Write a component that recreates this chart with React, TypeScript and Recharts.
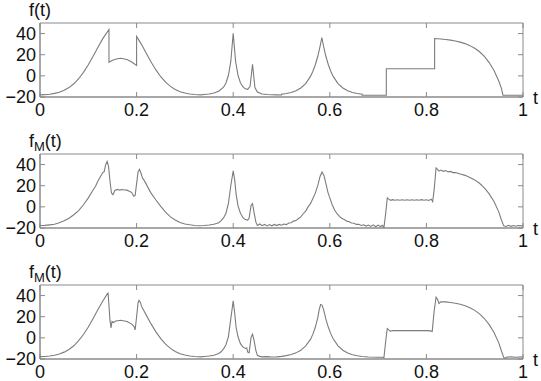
import { LineChart, Line, XAxis, YAxis, ReferenceArea } from "recharts";

// t ticks / value ticks shared by the three panels
const tTicks = [0, 0.2, 0.4, 0.6, 0.8, 1];
const yTicks = [-20, 0, 20, 40];

// f(t): original piecewise regular signal  [t, value]
const fPoints: [number, number][] = [
  [0, -18.0], [0.01, -17.8], [0.02, -17.4], [0.03, -16.6], [0.04, -15.5], [0.05, -13.7],
  [0.06, -11.1], [0.07, -7.5], [0.08, -2.7], [0.09, 3.3], [0.1, 10.5], [0.11, 18.5],
  [0.12, 27.0], [0.13, 35.2], [0.1428, 43.8], [0.1428, 12.9], [0.15, 14.8], [0.16, 16.2],
  [0.167, 16.7], [0.18, 15.5], [0.19, 13.1], [0.2, 9.9], [0.2, 37.2], [0.21, 29.8],
  [0.22, 21.3], [0.23, 13.1], [0.24, 5.6], [0.25, -0.8], [0.26, -6.0], [0.27, -10.0],
  [0.28, -12.9], [0.29, -15.0], [0.3, -16.3], [0.31, -17.2], [0.32, -17.7], [0.333, -18.0],
  [0.34, -17.6], [0.35, -17.1], [0.36, -16.3], [0.37, -14.6], [0.38, -10.7], [0.385, -6.7],
  [0.39, 0.3], [0.395, 13.4], [0.4, 40.2], [0.405, 13.5], [0.41, 0.4], [0.415, -6.5],
  [0.42, -10.3], [0.425, -12.3], [0.43, -12.8], [0.435, -9.8], [0.44, 11.0], [0.445, -11.0],
  [0.45, -15.3], [0.46, -17.2], [0.47, -17.7], [0.48, -17.9], [0.49, -18.0], [0.5, -18.1],
  [0.5, -17.3], [0.51, -16.7], [0.52, -15.7], [0.53, -14.1], [0.54, -11.5], [0.55, -7.3],
  [0.56, -0.5], [0.565, 4.3], [0.57, 10.5], [0.575, 18.3], [0.58, 28.2], [0.5835, 36.3],
  [0.587, 28.2], [0.592, 18.3], [0.597, 10.5], [0.602, 4.3], [0.607, -0.5], [0.617, -7.3],
  [0.627, -11.5], [0.637, -14.1], [0.647, -15.7], [0.657, -16.7], [0.667, -17.3], [0.667, -18.3],
  [0.717, -18.3], [0.717, 6.7], [0.817, 6.7], [0.817, 35.3], [0.83, 34.9], [0.84, 34.4],
  [0.85, 33.8], [0.86, 33.0], [0.87, 31.9], [0.88, 30.5], [0.89, 28.6], [0.9, 26.1],
  [0.91, 22.8], [0.92, 18.4], [0.93, 12.6], [0.94, 5.0], [0.95, -5.1], [0.955, -11.4],
  [0.9585, -18.3], [1, -18.3],
];

// f_M(t): linear approximation (ringing near singularities)
const fmLinear: [number, number][] = [
  [0, -17.6], [0.01, -17.5], [0.02, -17.0], [0.03, -16.4], [0.04, -15.0], [0.05, -13.2],
  [0.06, -10.8], [0.07, -7.5], [0.08, -3.5], [0.09, 2.0], [0.1, 8.5], [0.11, 16.0],
  [0.115, 19.5], [0.12, 24.5], [0.125, 28.5], [0.13, 32.5], [0.133, 33.5], [0.136, 40.0],
  [0.139, 43.0], [0.142, 38.0], [0.145, 24.0], [0.148, 13.0], [0.151, 11.5], [0.155, 15.5],
  [0.16, 16.5], [0.165, 15.8], [0.17, 16.4], [0.175, 16.0], [0.18, 15.8], [0.185, 14.8],
  [0.19, 13.5], [0.194, 10.0], [0.197, 10.8], [0.2, 22.0], [0.203, 33.0], [0.206, 35.5],
  [0.209, 32.0], [0.212, 27.5], [0.215, 25.5], [0.22, 21.5], [0.225, 17.0], [0.23, 13.0],
  [0.24, 6.5], [0.25, 0.5], [0.26, -5.0], [0.27, -9.5], [0.28, -12.5], [0.29, -14.8],
  [0.3, -16.2], [0.31, -17.0], [0.32, -17.6], [0.33, -17.9], [0.34, -17.7], [0.35, -17.2],
  [0.36, -16.5], [0.37, -15.0], [0.375, -13.0], [0.38, -10.5], [0.385, -6.0], [0.39, 3.0],
  [0.395, 20.0], [0.4, 34.0], [0.403, 26.0], [0.406, 12.0], [0.41, 1.0], [0.415, -6.0],
  [0.42, -10.0], [0.425, -12.0], [0.43, -12.5], [0.433, -10.5], [0.437, 1.5], [0.44, 3.0],
  [0.443, -5.0], [0.447, -14.5], [0.45, -17.5], [0.455, -16.2], [0.46, -17.8], [0.465, -16.6],
  [0.47, -18.0], [0.475, -16.8], [0.48, -17.9], [0.485, -16.6], [0.49, -17.7], [0.495, -16.6],
  [0.5, -17.4], [0.505, -16.2], [0.51, -16.8], [0.515, -15.2], [0.52, -15.0], [0.525, -13.5],
  [0.53, -13.0], [0.535, -11.0], [0.54, -9.5], [0.545, -6.5], [0.55, -4.0], [0.555, 0.0],
  [0.56, 3.0], [0.565, 8.0], [0.57, 13.0], [0.575, 20.0], [0.58, 29.0], [0.584, 33.0],
  [0.588, 29.5], [0.592, 22.0], [0.596, 14.0], [0.6, 8.5], [0.605, 2.0], [0.61, -3.0],
  [0.615, -6.5], [0.62, -9.0], [0.625, -11.0], [0.63, -12.0], [0.635, -13.5], [0.64, -14.0],
  [0.645, -15.2], [0.65, -15.5], [0.655, -16.6], [0.66, -16.5], [0.665, -17.6], [0.67, -17.0],
  [0.675, -18.2], [0.68, -17.2], [0.685, -18.5], [0.69, -17.0], [0.695, -18.8], [0.7, -17.2],
  [0.705, -18.6], [0.709, -17.5], [0.712, -20.0], [0.716, -5.0], [0.719, 8.5], [0.722, 7.3],
  [0.726, 6.2], [0.73, 6.8], [0.735, 6.3], [0.74, 6.7], [0.745, 6.2], [0.75, 6.7],
  [0.755, 6.3], [0.76, 6.7], [0.765, 6.2], [0.77, 6.7], [0.775, 6.3], [0.78, 6.7],
  [0.785, 6.2], [0.79, 6.8], [0.795, 6.2], [0.8, 6.7], [0.805, 6.0], [0.81, 7.3],
  [0.813, 5.0], [0.816, 16.0], [0.82, 36.8], [0.823, 35.5], [0.826, 33.8], [0.83, 34.8],
  [0.835, 33.6], [0.84, 34.3], [0.845, 33.1], [0.85, 33.5], [0.855, 32.4], [0.86, 32.5],
  [0.87, 31.0], [0.88, 29.8], [0.89, 27.8], [0.9, 25.5], [0.91, 22.3], [0.92, 18.0],
  [0.93, 12.3], [0.94, 5.0], [0.95, -5.0], [0.955, -12.0], [0.96, -18.0], [0.965, -18.5],
  [0.97, -17.5], [0.975, -18.4], [0.98, -17.6], [0.985, -18.3], [0.99, -17.6], [1, -18.0],
];

// f_M(t): non-linear approximation
const fmNonlinear: [number, number][] = [
  [0, -17.8], [0.01, -17.6], [0.02, -17.2], [0.03, -16.5], [0.04, -15.3], [0.05, -13.5],
  [0.06, -11.0], [0.07, -7.5], [0.08, -2.7], [0.09, 3.2], [0.1, 10.3], [0.11, 18.3],
  [0.12, 26.8], [0.13, 34.8], [0.14, 42.0], [0.141, 42.3], [0.145, 16.0], [0.147, 9.5],
  [0.149, 15.5], [0.152, 14.5], [0.157, 16.0], [0.167, 16.7], [0.18, 15.5], [0.19, 13.0],
  [0.195, 10.5], [0.197, 7.5], [0.2, 20.0], [0.203, 33.0], [0.205, 35.5], [0.208, 33.5],
  [0.21, 30.0], [0.22, 21.5], [0.23, 13.2], [0.24, 5.7], [0.25, -0.7], [0.26, -6.0],
  [0.27, -10.0], [0.28, -12.9], [0.29, -15.0], [0.3, -16.3], [0.31, -17.2], [0.32, -17.7],
  [0.333, -18.0], [0.34, -17.7], [0.35, -17.2], [0.36, -16.4], [0.37, -14.8], [0.375, -13.2],
  [0.38, -10.5], [0.385, -6.5], [0.39, 1.0], [0.395, 18.0], [0.4, 35.0], [0.403, 24.0],
  [0.406, 10.0], [0.41, 1.0], [0.415, -5.5], [0.42, -8.5], [0.425, -10.0], [0.428, -9.5],
  [0.43, -13.5], [0.433, -14.0], [0.437, 0.5], [0.44, 3.5], [0.443, -2.0], [0.447, -12.0],
  [0.45, -16.5], [0.455, -17.5], [0.46, -18.0], [0.47, -17.8], [0.48, -18.1], [0.49, -18.0],
  [0.5, -17.5], [0.51, -16.8], [0.52, -15.8], [0.53, -14.2], [0.54, -11.8], [0.55, -7.5],
  [0.56, -1.5], [0.565, 3.5], [0.57, 10.0], [0.575, 19.0], [0.578, 26.5], [0.581, 31.5],
  [0.584, 31.0], [0.587, 27.0], [0.592, 17.5], [0.597, 10.0], [0.602, 4.0], [0.607, -0.8],
  [0.617, -7.5], [0.627, -11.7], [0.637, -14.3], [0.647, -15.9], [0.657, -16.9], [0.667, -17.6],
  [0.68, -18.1], [0.7, -18.3], [0.709, -18.3], [0.712, -19.0], [0.716, -2.0], [0.719, 8.8],
  [0.722, 7.5], [0.725, 6.3], [0.73, 6.8], [0.8, 6.8], [0.808, 6.6], [0.812, 6.0],
  [0.816, 25.0], [0.82, 38.5], [0.823, 36.5], [0.826, 32.5], [0.83, 34.0], [0.84, 34.0],
  [0.85, 33.5], [0.86, 32.8], [0.87, 31.8], [0.88, 30.4], [0.89, 28.5], [0.9, 26.0],
  [0.91, 22.7], [0.92, 18.3], [0.93, 12.5], [0.94, 5.0], [0.95, -5.0], [0.955, -12.0],
  [0.96, -18.5], [0.963, -19.3], [0.967, -18.2], [0.975, -18.0], [0.985, -18.3], [1, -18.0],
];

const W = 541;
const H = 131;
const LEFT = 40;
const RIGHT = 523;
const TOP = 23;
const BOTTOM = 97;
const FONT = '"Liberation Sans", Arial, Helvetica, sans-serif';
const FRAME = "#8a8a8a";
const CURVE = "#7c7c7c";

function XTick(props: any) {
  const { x, payload } = props;
  return (
    <g>
      <line x1={x} x2={x} y1={BOTTOM} y2={BOTTOM - 5} stroke={FRAME} />
      <line x1={x} x2={x} y1={TOP} y2={TOP + 5} stroke={FRAME} />
      <text x={x} y={BOTTOM + 18.5} textAnchor="middle" fontFamily={FONT} fontSize={18} fill="#111">
        {String(payload.value)}
      </text>
    </g>
  );
}

function YTick(props: any) {
  const { y, payload } = props;
  const v = payload.value as number;
  const label = v < 0 ? "\u2212" + Math.abs(v) : String(v);
  return (
    <g>
      <line x1={LEFT} x2={LEFT + 5} y1={y} y2={y} stroke={FRAME} />
      <line x1={RIGHT} x2={RIGHT - 5} y1={y} y2={y} stroke={FRAME} />
      <text x={LEFT - 4} y={y} dy="0.36em" textAnchor="end" fontFamily={FONT} fontSize={18} fill="#111">
        {label}
      </text>
    </g>
  );
}

function Panel({ points, sub }: { points: [number, number][]; sub: boolean }) {
  const data = points.map(([t, v]) => ({ t, v }));
  return (
    <div style={{ position: "relative", width: W, height: H }}>
      <LineChart width={W} height={H} data={data} margin={{ top: TOP, right: W - RIGHT, bottom: 0, left: 0 }}>
        <XAxis
          dataKey="t"
          type="number"
          domain={[0, 1]}
          ticks={tTicks}
          height={H - BOTTOM}
          tickLine={false}
          axisLine={{ stroke: FRAME }}
          tick={(p: any) => <XTick {...p} />}
          interval={0}
        />
        <YAxis
          type="number"
          domain={[-20, 50]}
          ticks={yTicks}
          width={LEFT}
          tickLine={false}
          axisLine={{ stroke: FRAME }}
          allowDataOverflow
          tick={(p: any) => <YTick {...p} />}
          interval={0}
        />
        <ReferenceArea x1={0} x2={1} y1={-20} y2={50} fill="none" fillOpacity={0} stroke={FRAME} strokeWidth={1} />
        <Line
          type="linear"
          dataKey="v"
          stroke={CURVE}
          strokeWidth={1.1}
          dot={false}
          isAnimationActive={false}
        />
      </LineChart>
      <svg width={W} height={H} style={{ position: "absolute", left: 0, top: 0, pointerEvents: "none" }}>
        <text x={29} y={16} fontFamily={FONT} fontSize={18} fill="#111">
          {sub ? (
            <>
              <tspan>f</tspan>
              <tspan fontSize={13} dy={4}>M</tspan>
              <tspan dy={-4}>(t)</tspan>
            </>
          ) : (
            "f(t)"
          )}
        </text>
        <text x={533} y={104} fontFamily={FONT} fontSize={18} fill="#111">t</text>
      </svg>
    </div>
  );
}

export default function App() {
  return (
    <div style={{ position: "absolute", left: 0, top: 0, width: W, height: 381, background: "#fff" }}>
      <Panel points={fPoints} sub={false} />
      <Panel points={fmLinear} sub={true} />
      <Panel points={fmNonlinear} sub={true} />
    </div>
  );
}
